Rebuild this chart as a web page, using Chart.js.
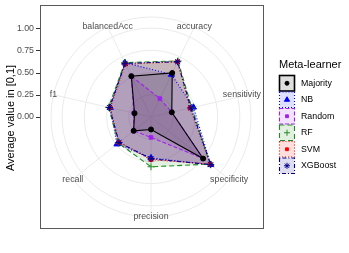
<!DOCTYPE html>
<html>
<head>
<meta charset="utf-8">
<script src="https://cdn.jsdelivr.net/npm/chart.js@4.4.1/dist/chart.umd.min.js"></script>
<style>html,body{margin:0;padding:0;background:#fff}canvas{display:block}</style>
</head>
<body>
<canvas id="radarChart" width="349" height="253"></canvas>
<script>
// metricas (ordem horaria, comecando em accuracy)
const metrics = ['accuracy', 'sensitivity', 'specificity', 'precision', 'recall', 'f1', 'balancedAcc'];
const learners = ['Majority', 'NB', 'Random', 'RF', 'SVM', 'XGBoost'];

const majorityVals = [0.55, 0.24, 0.75, 0.14, 0.25, 0.19, 0.51];
const nbVals       = [0.53, 0.49, 0.86, 0.46, 0.49, 0.47, 0.68];
const randomVals   = [0.23, 0.24, 0.75, 0.23, 0.25, 0.20, 0.51];
const rfVals       = [0.70, 0.47, 0.85, 0.56, 0.47, 0.49, 0.68];
const svmVals      = [0.69, 0.45, 0.85, 0.48, 0.46, 0.47, 0.66];
const xgboostVals  = [0.69, 0.46, 0.86, 0.47, 0.46, 0.48, 0.67];

const yTicks = [0, 0.25, 0.5, 0.75, 1];
const yTickLabels = ['0.00', '0.25', '0.50', '0.75', '1.00'];
const gridValues = [0, 0.25, 0.5, 0.75, 1, 1.125];

const seriesValues = [majorityVals, nbVals, randomVals, rfVals, svmVals, xgboostVals];
const colors = ['#000000', '#0000FF', '#A020F0', '#228B22', '#FF0000', '#00008B'];
const fills = ['rgba(0,0,0,0.13)', 'rgba(0,0,255,0.13)', 'rgba(160,32,240,0.13)',
               'rgba(34,139,34,0.13)', 'rgba(255,0,0,0.13)', 'rgba(0,0,139,0.13)'];
const dashes = [[], [1, 2], [4, 2], [5, 3], [1, 2], [1, 2, 4, 2]];
const shapes = ['circle', 'triangle', 'rect', 'cross', 'rect', 'star'];
const radii = [2.5, 3.5, 2.5, 3.5, 2.5, 3.5];
// ordem de desenho (menor = por cima); Majority fica por cima de tudo
const drawOrder = [0, 5, 4, 3, 2, 1];

const FONT = '"Liberation Sans", Arial, sans-serif';

const ggPlugin = {
  id: 'ggFrame',
  beforeDraw(chart) {
    const ctx = chart.ctx;
    ctx.save();
    ctx.fillStyle = '#fff';
    ctx.fillRect(0, 0, chart.width, chart.height);
    ctx.restore();
  },
  afterDraw(chart) {
    const ctx = chart.ctx;
    const s = chart.scales.r;
    ctx.save();

    // painel
    ctx.strokeStyle = '#595959';
    ctx.lineWidth = 1;
    ctx.strokeRect(40.5, 5.5, 223, 223);

    // eixo y a esquerda
    ctx.font = '8.8px ' + FONT;
    ctx.fillStyle = '#4D4D4D';
    ctx.textAlign = 'right';
    ctx.textBaseline = 'middle';
    yTicks.forEach((v, i) => {
      const y = s.yCenter - s.getDistanceFromCenterForValue(v);
      ctx.fillText(yTickLabels[i], 34, y);
      ctx.beginPath();
      ctx.strokeStyle = '#333';
      ctx.moveTo(36, Math.round(y) + 0.5);
      ctx.lineTo(40, Math.round(y) + 0.5);
      ctx.stroke();
    });

    // titulo do eixo
    ctx.save();
    ctx.translate(11, 118);
    ctx.rotate(-Math.PI / 2);
    ctx.font = '11px ' + FONT;
    ctx.fillStyle = '#000';
    ctx.textAlign = 'center';
    ctx.fillText('Average value in [0,1]', 0, 0);
    ctx.restore();

    // rotulos das metricas
    ctx.font = '8.8px ' + FONT;
    ctx.fillStyle = '#4D4D4D';
    ctx.textAlign = 'center';
    metrics.forEach((m, i) => {
      const p = s.getPointPosition(i, s.drawingArea);
      const w = ctx.measureText(m).width;
      let x = p.x;
      if (x + w / 2 > 261) x = 261 - w / 2;
      if (x - w / 2 < 43) x = 43 + w / 2;
      ctx.fillText(m, x, p.y);
    });

    // legenda
    ctx.textAlign = 'left';
    ctx.fillStyle = '#000';
    ctx.font = '11px ' + FONT;
    ctx.fillText('Meta-learner', 279, 65);
    ctx.font = '8.8px ' + FONT;
    learners.forEach((name, i) => {
      const y0 = 75.5 + i * 16.5;
      ctx.fillStyle = fills[i];
      ctx.fillRect(279.5, y0, 15, 15.5);
      ctx.setLineDash(dashes[i]);
      ctx.strokeStyle = colors[i];
      ctx.lineWidth = i === 0 ? 1.6 : 1.1;
      ctx.strokeRect(279.5, y0, 15, 15.5);
      ctx.setLineDash([]);
      ctx.fillStyle = colors[i];
      ctx.strokeStyle = colors[i];
      ctx.lineWidth = 1;
      Chart.helpers.drawPoint(ctx, {pointStyle: shapes[i], radius: radii[i] - 0.5, rotation: 0, borderWidth: 1}, 287, y0 + 7.75);
      ctx.fillStyle = '#000';
      ctx.fillText(name, 301, y0 + 8);
    });
    ctx.restore();
  }
};

new Chart(document.getElementById('radarChart'), {
  type: 'radar',
  data: {
    labels: metrics,
    datasets: learners.map((name, i) => ({
      label: name,
      data: seriesValues[i],
      borderColor: colors[i],
      backgroundColor: fills[i],
      borderWidth: 1.1,
      borderDash: dashes[i],
      fill: true,
      tension: 0,
      pointStyle: shapes[i],
      pointRadius: radii[i],
      pointBackgroundColor: colors[i],
      pointBorderColor: colors[i],
      pointBorderWidth: 1,
      order: drawOrder[i]
    }))
  },
  options: {
    responsive: false,
    animation: false,
    devicePixelRatio: 1,
    layout: { padding: { left: 51, right: 97, top: 17, bottom: 35 } },
    plugins: {
      legend: { display: false },
      tooltip: { enabled: false },
      filler: { drawTime: 'beforeDatasetsDraw' }
    },
    scales: {
      r: {
        min: 0,
        max: 1.125,
        startAngle: 180 / 7,
        afterBuildTicks(scale) {
          scale.ticks = gridValues.map(v => ({ value: v }));
        },
        ticks: { display: false },
        pointLabels: { display: false },
        grid: { circular: true, color: '#EBEBEB', lineWidth: 1 },
        angleLines: { color: '#EBEBEB', lineWidth: 1 }
      }
    }
  },
  plugins: [ggPlugin]
});
</script>
</body>
</html>
